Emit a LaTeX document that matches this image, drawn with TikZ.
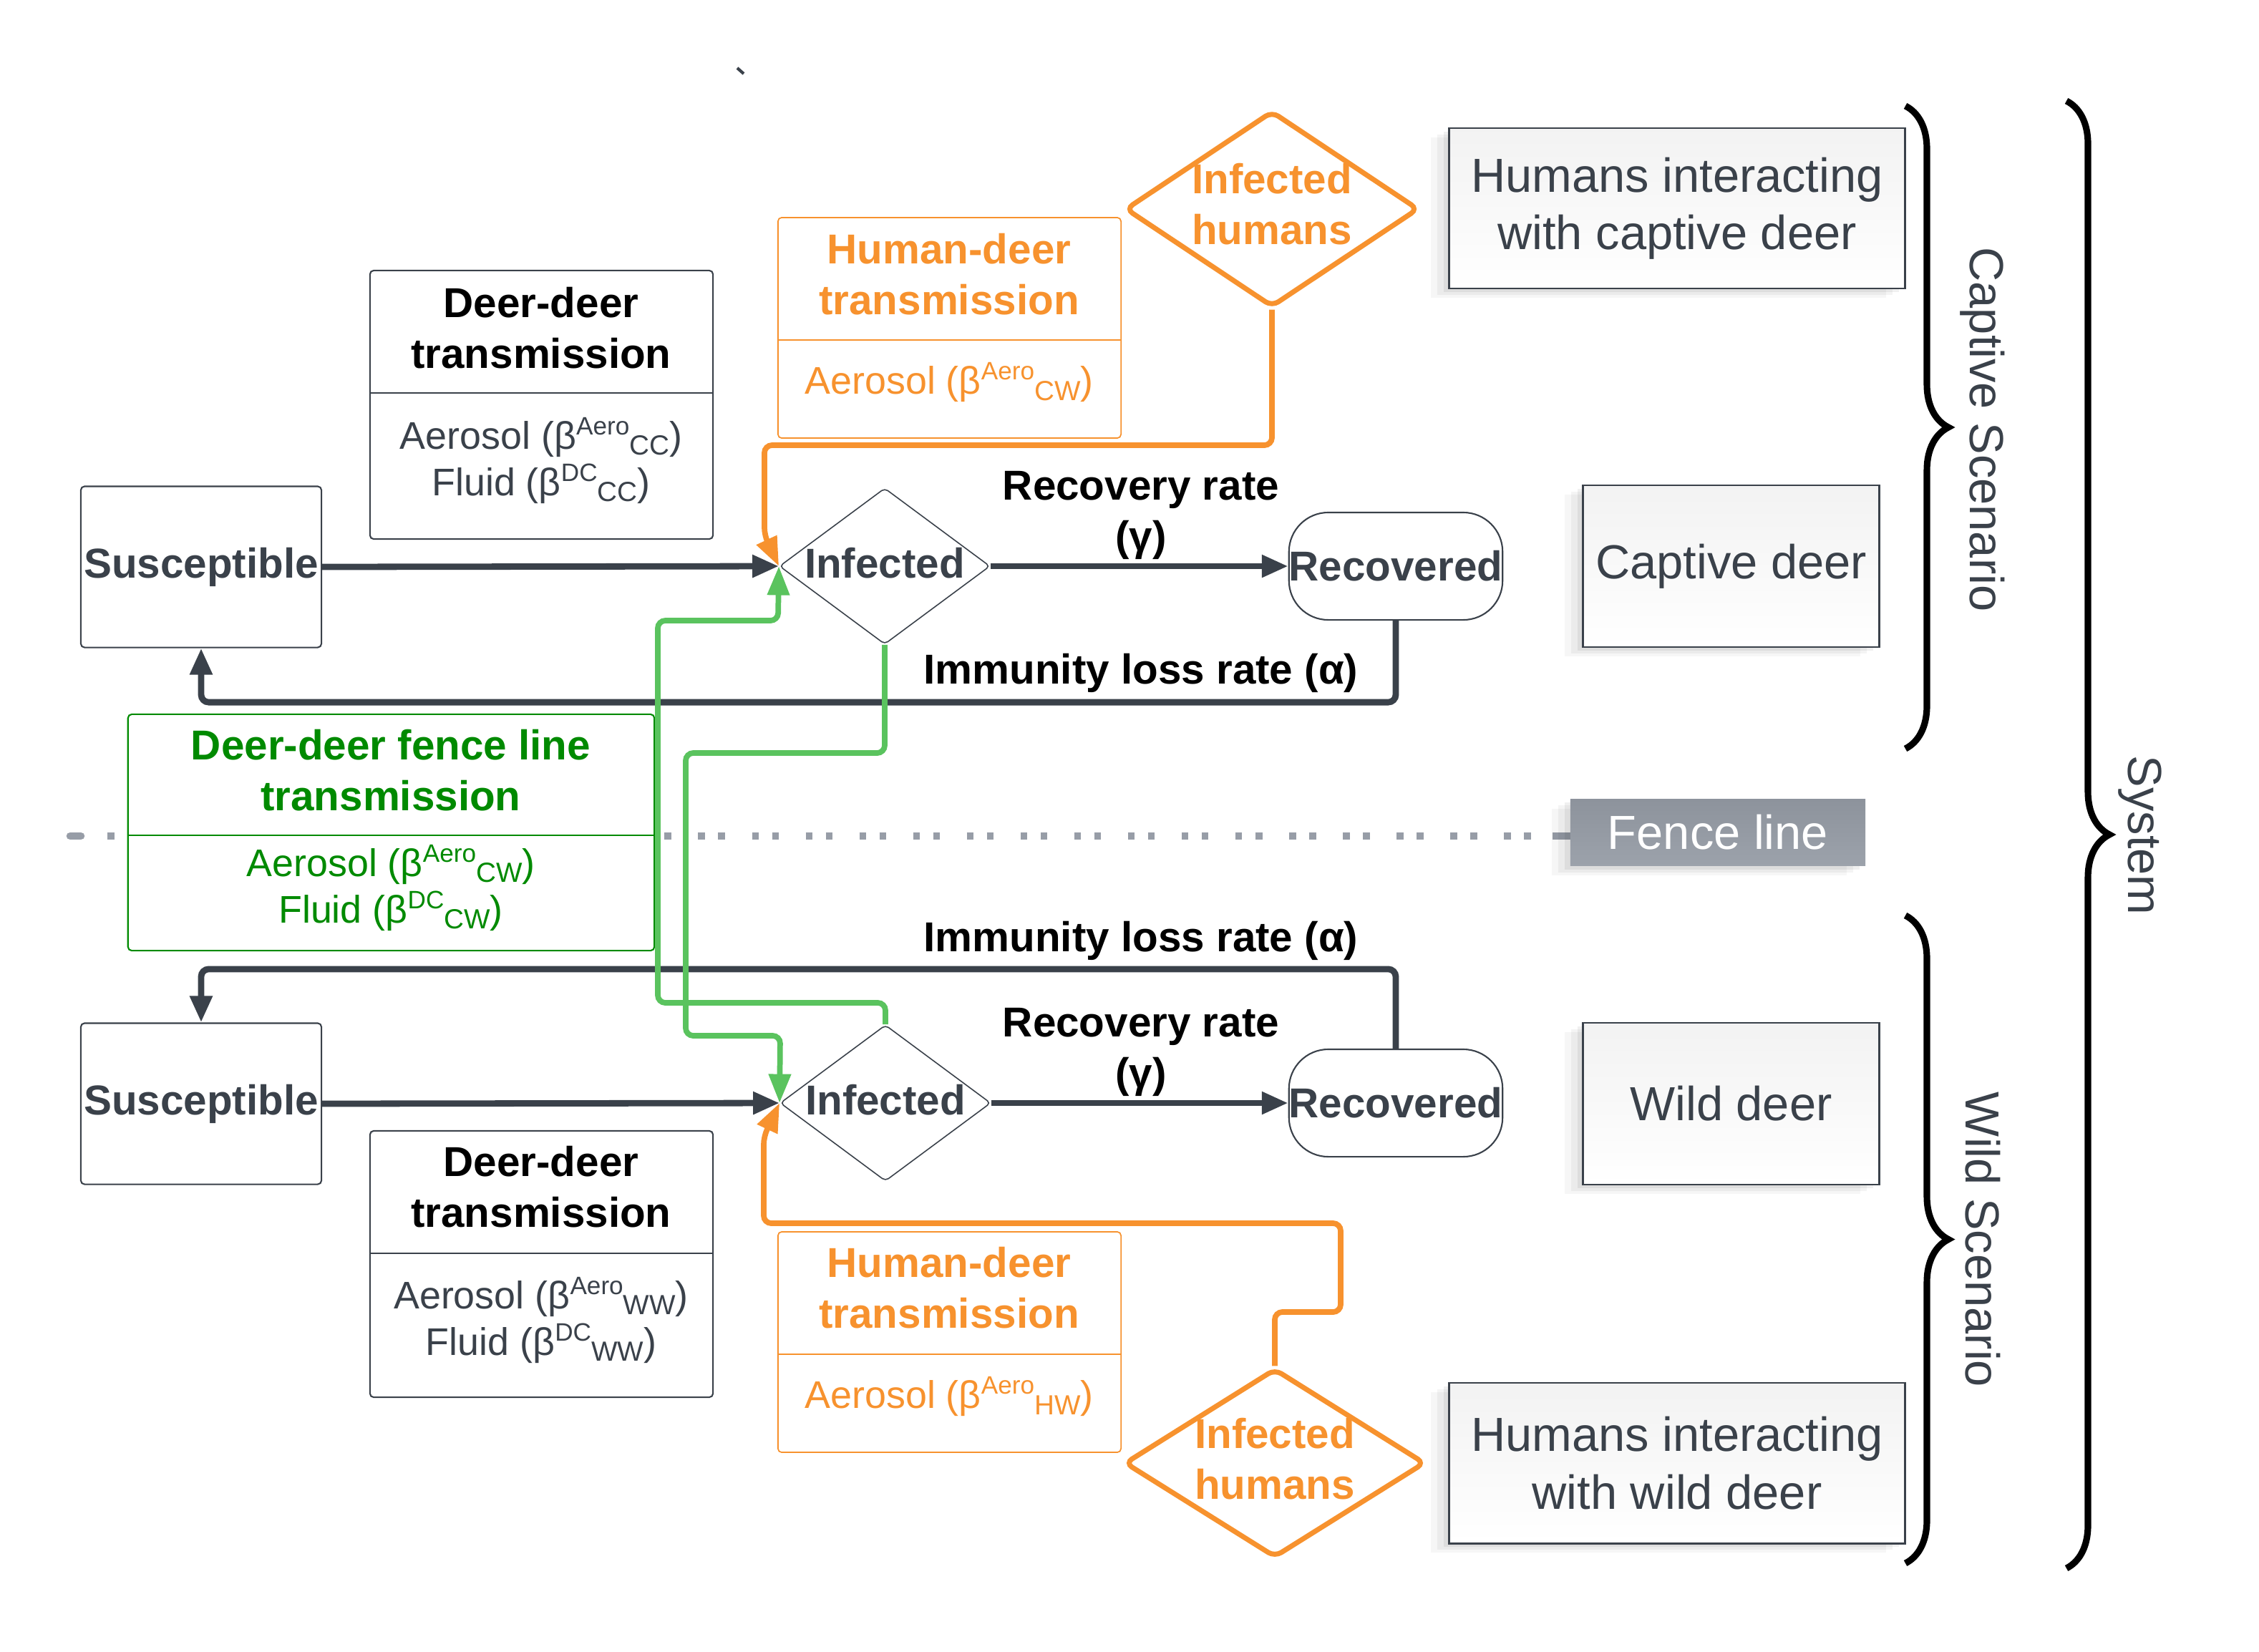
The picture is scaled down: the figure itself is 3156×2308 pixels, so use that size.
\documentclass[tikz,border=0pt]{standalone}
\usepackage{fontspec}
\setmainfont{Liberation Sans}
\usetikzlibrary{arrows.meta,shapes.geometric,decorations.pathreplacing}
\definecolor{dg}{HTML}{3A414A}
\definecolor{org}{HTML}{F7922E}
\definecolor{lgr}{HTML}{5AC35E}
\definecolor{dgr}{HTML}{008A00}
\definecolor{fgray}{HTML}{979DA7}
\definecolor{fgtop}{HTML}{8D939C}
\definecolor{fgbot}{HTML}{9CA2AB}
\newcommand{\mysup}[1]{\smash{\raisebox{5.7pt}{\fontsize{10pt}{12pt}\selectfont #1}}}
\newcommand{\mysub}[1]{\smash{\raisebox{-2.4pt}{\fontsize{11pt}{12pt}\selectfont #1}}}
\tikzset{
  bl/.style={font=\fontsize{16.6pt}{20pt}\selectfont\bfseries, align=center, inner sep=0pt},
  rl/.style={font=\fontsize{15.3pt}{18.5pt}\selectfont, align=center, inner sep=0pt},
  big/.style={font=\fontsize{19pt}{22.8pt}\selectfont, align=center, inner sep=0pt, text=dg},
  statebox/.style={rectangle, draw=dg, line width=0.6pt, rounded corners=1.5pt, fill=white, bl, text=dg, minimum width=3.36cm, minimum height=2.25cm},
  infdiam/.style={diamond, draw=dg, line width=0.45pt, rounded corners=1.5pt, fill=white, inner sep=0pt, minimum width=2.94cm, minimum height=2.18cm},
  recbox/.style={rectangle, draw=dg, line width=0.6pt, rounded corners=0.55cm, fill=white, bl, text=dg, minimum width=2.98cm, minimum height=1.5cm},
  humdiam/.style={diamond, draw=org, line width=2pt, rounded corners=3pt, fill=white, inner sep=0pt},
  tbox/.style={rectangle, line width=0.6pt, rounded corners=1.5pt, fill=white, inner sep=0pt},
  softshadow/.style={
    preaction={fill=black, fill opacity=0.035, transform canvas={xshift=-0.26cm, yshift=-0.13cm}},
    preaction={fill=black, fill opacity=0.045, transform canvas={xshift=-0.17cm, yshift=-0.09cm}},
    preaction={fill=black, fill opacity=0.06, transform canvas={xshift=-0.08cm, yshift=-0.05cm}}},
  scenbox/.style={rectangle, draw=dg, line width=0.8pt, top color=black!5, bottom color=white, softshadow, big},
  dkarrow/.style={draw=dg, line width=2.5pt, rounded corners=3pt, -{Triangle[length=10.5pt,width=8.5pt]}},
  orarrow/.style={draw=org, line width=2.2pt, rounded corners=3pt, -{Triangle[length=11.5pt,width=8.5pt]}},
  grarrow/.style={draw=lgr, line width=2.2pt, rounded corners=3pt, -{Triangle[length=11.5pt,width=8.5pt]}},
  bracestyle/.style={decorate, decoration={brace, amplitude=0.6cm}, line width=2.6pt, black},
}
\begin{document}
\begin{tikzpicture}[x=0.01cm, y=-0.01cm]
\useasboundingbox (0,0) rectangle (3156,2308);

% tiny mark
\draw[dg, line width=1.2pt] (1030,95) -- (1039,103);

% fence line (dotted)
\draw[fgray, line width=3pt, line cap=round] (98,1168) -- (113,1168);
\draw[fgray, line width=3pt, dash pattern=on 0.096cm off 0.184cm on 0.096cm off 0.374cm] (150,1168) -- (2150,1168);
\draw[fgray, line width=3pt] (2169,1168) -- (2194,1168);

% state nodes
\node[statebox] (sus1) at (281,792) {Susceptible};
\node[statebox] (sus2) at (281,1542) {Susceptible};
\node[infdiam, label={[bl,text=dg,yshift=0.04cm]center:Infected}] (inf1) at (1236,791) {};
\node[infdiam, label={[bl,text=dg,yshift=0.04cm]center:Infected}] (inf2) at (1237,1541) {};
\node[recbox] (rec1) at (1950,791) {Recovered};
\node[recbox] (rec2) at (1950,1541) {Recovered};

% infected humans
\node[humdiam, minimum width=4.1cm, minimum height=2.74cm, label={[bl,text=org,yshift=0.07cm]center:Infected\\humans}] (ih1) at (1777,292) {};
\node[humdiam, minimum width=4.2cm, minimum height=2.64cm, label={[bl,text=org,yshift=0.06cm]center:Infected\\humans}] (ih2) at (1781,2044) {};

% top deer-deer transmission
\node[tbox, draw=dg, minimum width=4.79cm, minimum height=3.75cm] (dd1) at (756.5,565.5) {};
\draw[dg, line width=0.6pt] (dd1.west |- 0,549) -- (dd1.east |- 0,549);
\node[bl] (dd1t) at (756,458) {Deer-deer\\transmission};
\node[rl, text=dg] (dd1b) at (756,646) {Aerosol (β\mysup{Aero}\mysub{CC})\\Fluid (β\mysup{DC}\mysub{CC})};

% top human-deer transmission
\node[tbox, draw=org, line width=0.5pt, minimum width=4.79cm, minimum height=3.08cm] (hd1) at (1326.5,458) {};
\draw[org, line width=0.5pt] (hd1.west |- 0,475) -- (hd1.east |- 0,475);
\node[bl, text=org] (hd1t) at (1326,383) {Human-deer\\transmission};
\node[rl, text=org] (hd1b) at (1326,537) {Aerosol (β\mysup{Aero}\mysub{CW})};

% fence line transmission
\node[tbox, draw=dgr, minimum width=7.35cm, minimum height=3.30cm] (fl) at (546.5,1163) {};
\draw[dgr, line width=0.6pt] (fl.west |- 0,1167) -- (fl.east |- 0,1167);
\node[bl, text=dgr] (flt) at (546,1076) {Deer-deer fence line\\transmission};
\node[rl, text=dgr] (flb) at (546,1243) {Aerosol (β\mysup{Aero}\mysub{CW})\\Fluid (β\mysup{DC}\mysub{CW})};

% bottom deer-deer transmission
\node[tbox, draw=dg, minimum width=4.79cm, minimum height=3.72cm] (dd2) at (756.5,1766) {};
\draw[dg, line width=0.6pt] (dd2.west |- 0,1751) -- (dd2.east |- 0,1751);
\node[bl] (dd2t) at (756,1658) {Deer-deer\\transmission};
\node[rl, text=dg] (dd2b) at (756,1847) {Aerosol (β\mysup{Aero}\mysub{WW})\\Fluid (β\mysup{DC}\mysub{WW})};

% bottom human-deer transmission
\node[tbox, draw=org, line width=0.5pt, minimum width=4.79cm, minimum height=3.08cm] (hd2) at (1326.5,1875) {};
\draw[org, line width=0.5pt] (hd2.west |- 0,1892) -- (hd2.east |- 0,1892);
\node[bl, text=org] (hd2t) at (1326,1799) {Human-deer\\transmission};
\node[rl, text=org] (hd2b) at (1326,1954) {Aerosol (β\mysup{Aero}\mysub{HW})};

% scenario boxes
\node[scenbox, minimum width=6.36cm, minimum height=2.24cm] (hc) at (2343,291) {Humans interacting\\with captive deer};
\node[scenbox, minimum width=4.13cm, minimum height=2.26cm] (cd) at (2418.5,791) {Captive deer};
\node[scenbox, minimum width=4.13cm, minimum height=2.26cm] (wd) at (2418.5,1542) {Wild deer};
\node[scenbox, minimum width=6.36cm, minimum height=2.24cm] (hw) at (2343,2044) {Humans interacting\\with wild deer};
\node[rectangle, top color=fgtop, bottom color=fgbot, softshadow, big, text=white, minimum width=4.12cm, minimum height=0.93cm] (fence) at (2400,1163) {Fence line};

% rate labels
\node[bl] (rr1) at (1594,720) {Recovery rate\\(γ)};
\node[bl] (il1) at (1594,940) {Immunity loss rate (α)};
\node[bl] (rr2) at (1594,1470) {Recovery rate\\(γ)};
\node[bl] (il2) at (1594,1314) {Immunity loss rate (α)};

% braces and labels
\draw[bracestyle] (2662,148) -- (2662,1046);
\draw[bracestyle] (2662,1279) -- (2662,2184);
\draw[bracestyle] (2887,141) -- (2887,2191);
\node[big, rotate=-90] (cs) at (2770,600) {Captive Scenario};
\node[big, rotate=-90] (ws) at (2770,1732) {Wild Scenario};
\node[big, rotate=-90] (sy) at (2990,1167) {System};

% dark connectors
\draw[dkarrow] (sus1.east) -- (inf1.west);
\draw[dkarrow] (inf1.east) -- (rec1.west);
\draw[dkarrow] (rec1.south) -- ++(0,114) -| (sus1.south);
\draw[dkarrow] (sus2.east) -- (inf2.west);
\draw[dkarrow] (inf2.east) -- (rec2.west);
\draw[dkarrow] (rec2.north) -- ++(0,-111) -| (sus2.north);

% green connectors
\draw[grarrow] (inf1.south) |- (958,1052) |- (1090,1447) -- (inf2.west);
\draw[grarrow] (inf2.north) |- (919,1401) |- (1087,867) -- (inf1.west);

% orange connectors
\draw[orarrow] (ih1.south) |- (1068,622) -- (1068,748) -- (inf1.west);
\draw[orarrow] (ih2.north) |- (1873,1833) |- (1067,1709) -- (1067,1588) -- (inf2.west);
\end{tikzpicture}
\end{document}
